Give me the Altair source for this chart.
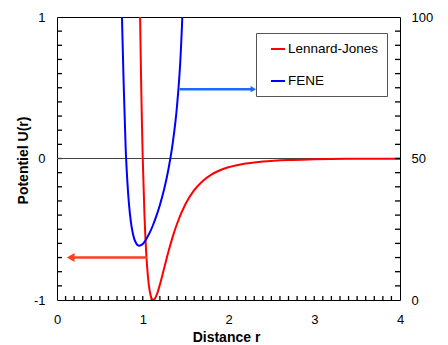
import altair as alt
import pandas as pd

# Lennard-Jones potential (left axis)
lj_r = [0.95, 0.96, 0.97, 0.98, 0.99, 1.00, 1.02, 1.04, 1.06, 1.08, 1.10, 1.12, 1.14,
        1.16, 1.18, 1.20, 1.25, 1.30, 1.35, 1.40, 1.50, 1.60, 1.70, 1.80, 2.00, 2.20,
        2.40, 2.70, 3.00, 3.50, 4.00]
lj_u = [1.96, 1.418, 0.963, 0.582, 0.264, 0.0, -0.398, -0.663, -0.832, -0.932, -0.983,
        -1.0, -0.992, -0.968, -0.933, -0.891, -0.774, -0.657, -0.552, -0.461, -0.320,
        -0.224, -0.159, -0.114, -0.062, -0.035, -0.021, -0.010, -0.0055, -0.002, -0.001]

# FENE potential (right axis)
fene_r = [0.75, 0.76, 0.78, 0.80, 0.82, 0.84, 0.86, 0.88, 0.90, 0.92, 0.94, 0.96, 0.98,
          1.00, 1.04, 1.08, 1.12, 1.16, 1.20, 1.25, 1.30, 1.35, 1.40, 1.44, 1.46, 1.47]
fene_u = [113.5, 97.0, 73.9, 54.3, 42.1, 33.7, 28.0, 24.2, 21.7, 20.2, 19.4, 19.2, 19.4,
          19.8, 21.5, 23.7, 26.5, 29.8, 33.6, 39.2, 46.3, 55.5, 68.7, 85.5, 99.0, 108.6]

series_names = ["Lennard-Jones", "FENE"]
series_colors = ["#ff0000", "#0000ff"]

# tick positions and labelled values
x_ticks = [round(i * 0.1, 1) for i in range(1, 40)]
yl_ticks = [round(-1 + i * 0.1, 1) for i in range(1, 20)]
yr_ticks = [i * 5 for i in range(1, 20)]
x_labels = [0, 1, 2, 3, 4]
yl_labels = [-1, 0, 1]
yr_labels = [0, 50, 100]

# arrows (annotation)
red_arrow_x = [1.05, 0.16]
red_arrow_y = -0.70
blue_arrow_x = [1.43, 2.29]
blue_arrow_y = 74.5

W, H = 343, 283
lj_df = pd.DataFrame({"r": lj_r, "U": lj_u, "s": series_names[0]})
fene_df = pd.DataFrame({"r": fene_r, "U": fene_u, "s": series_names[1]})

FONT = "Liberation Sans"
LBL = "'' + datum.value"

xscale = alt.Scale(domain=[0, 4], nice=False, zero=False)
ylscale = alt.Scale(domain=[-1, 1], nice=False, zero=False)
yrscale = alt.Scale(domain=[0, 100], nice=False, zero=False)
color = alt.Color("s:N", scale=alt.Scale(domain=series_names, range=series_colors),
                  legend=alt.Legend(title=None, orient="none", legendX=199, legendY=16,
                                    strokeColor="#555555", padding=8, fillColor="white",
                                    labelFontSize=13.5, labelFont=FONT,
                                    symbolType="stroke", symbolSize=196, symbolStrokeWidth=2,
                                    rowPadding=17, labelOffset=2, symbolOffset=6,
                                    labelColor="black"))

common = dict(domain=False, ticks=False, labelFontSize=13, labelColor="black", labelFont=FONT,
              labelFlush=False, labelOverlap=False, grid=False, labelExpr=LBL)

xaxis = alt.Axis(values=x_labels, title="Distance r", labelPadding=13,
                 titleFont=FONT, titleFontSize=14, titleFontWeight="bold", titleColor="black",
                 titleX=169, titleY=41, titleBaseline="alphabetic", **common)
ylaxis = alt.Axis(values=yl_labels, title="Potentiel U(r)", labelPadding=12,
                  titleFont=FONT, titleFontSize=14, titleFontWeight="bold", titleColor="black",
                  titleX=-30, titleY=143, titleBaseline="alphabetic", titleAngle=270, **common)
yraxis = alt.Axis(values=yr_labels, title=None, orient="right", labelPadding=11, **common)

x = alt.X("r:Q", scale=xscale, axis=xaxis)

# tick marks (inside the frame)
xt = alt.Chart(pd.DataFrame({"t": x_ticks})).mark_rule(color="black", strokeWidth=1.3).encode(
    x=alt.X("t:Q", scale=xscale, axis=xaxis), y=alt.value(H), y2=alt.value(H - 4))
ylt = alt.Chart(pd.DataFrame({"t": yl_ticks})).mark_rule(color="black", strokeWidth=1.3).encode(
    y=alt.Y("t:Q", scale=ylscale, axis=ylaxis), x=alt.value(0), x2=alt.value(5))
yrt = alt.Chart(pd.DataFrame({"t": yr_ticks})).mark_rule(color="black", strokeWidth=1.3).encode(
    y=alt.Y("t:Q", scale=yrscale, axis=yraxis), x=alt.value(W), x2=alt.value(W - 5))

zero = alt.Chart(pd.DataFrame({"y": [0]})).mark_rule(color="#444444", strokeWidth=1).encode(
    y=alt.Y("y:Q", scale=ylscale, axis=ylaxis))

lj_line = alt.Chart(lj_df).mark_line(strokeWidth=2, clip=True, interpolate="monotone").encode(
    x=x, y=alt.Y("U:Q", scale=ylscale, axis=ylaxis), color=color, order="r:Q")

red_df = pd.DataFrame({"x1": [red_arrow_x[0]], "x2": [red_arrow_x[1]], "y": [red_arrow_y]})
red_rule = alt.Chart(red_df).mark_rule(color="#ff4020", strokeWidth=2.5).encode(
    x=alt.X("x1:Q", scale=xscale, axis=xaxis), x2="x2:Q",
    y=alt.Y("y:Q", scale=ylscale, axis=ylaxis))
red_head = alt.Chart(red_df).mark_point(shape="triangle-left", filled=True, color="#ff4020",
                                        size=80, opacity=1).encode(
    x=alt.X("x2:Q", scale=xscale, axis=xaxis), y=alt.Y("y:Q", scale=ylscale, axis=ylaxis))

left = alt.layer(xt, ylt, zero, lj_line, red_rule, red_head)

fene_line = alt.Chart(fene_df).mark_line(strokeWidth=2, clip=True, interpolate="monotone").encode(
    x=x, y=alt.Y("U:Q", scale=yrscale, axis=yraxis), color=color, order="r:Q")

blue_df = pd.DataFrame({"x1": [blue_arrow_x[0]], "x2": [blue_arrow_x[1]], "y": [blue_arrow_y]})
blue_rule = alt.Chart(blue_df).mark_rule(color="#1a6aff", strokeWidth=2.5).encode(
    x=alt.X("x1:Q", scale=xscale, axis=xaxis), x2="x2:Q",
    y=alt.Y("y:Q", scale=yrscale, axis=yraxis))
blue_head = alt.Chart(blue_df).mark_point(shape="triangle-right", filled=True, color="#1a6aff",
                                          size=40, opacity=1).encode(
    x=alt.X("x2:Q", scale=xscale, axis=xaxis), y=alt.Y("y:Q", scale=yrscale, axis=yraxis))

right = alt.layer(yrt, fene_line, blue_rule, blue_head)

chart = alt.layer(left, right).resolve_scale(y="independent").properties(
    width=W, height=H,
    autosize=alt.AutoSizeParams(type="none"),
    padding={"left": 49, "top": 9, "right": 40, "bottom": 45},
    background="white",
).configure_view(stroke="black", strokeWidth=1)

chart.save("out.html", embed_options={"renderer": "svg", "actions": False})
